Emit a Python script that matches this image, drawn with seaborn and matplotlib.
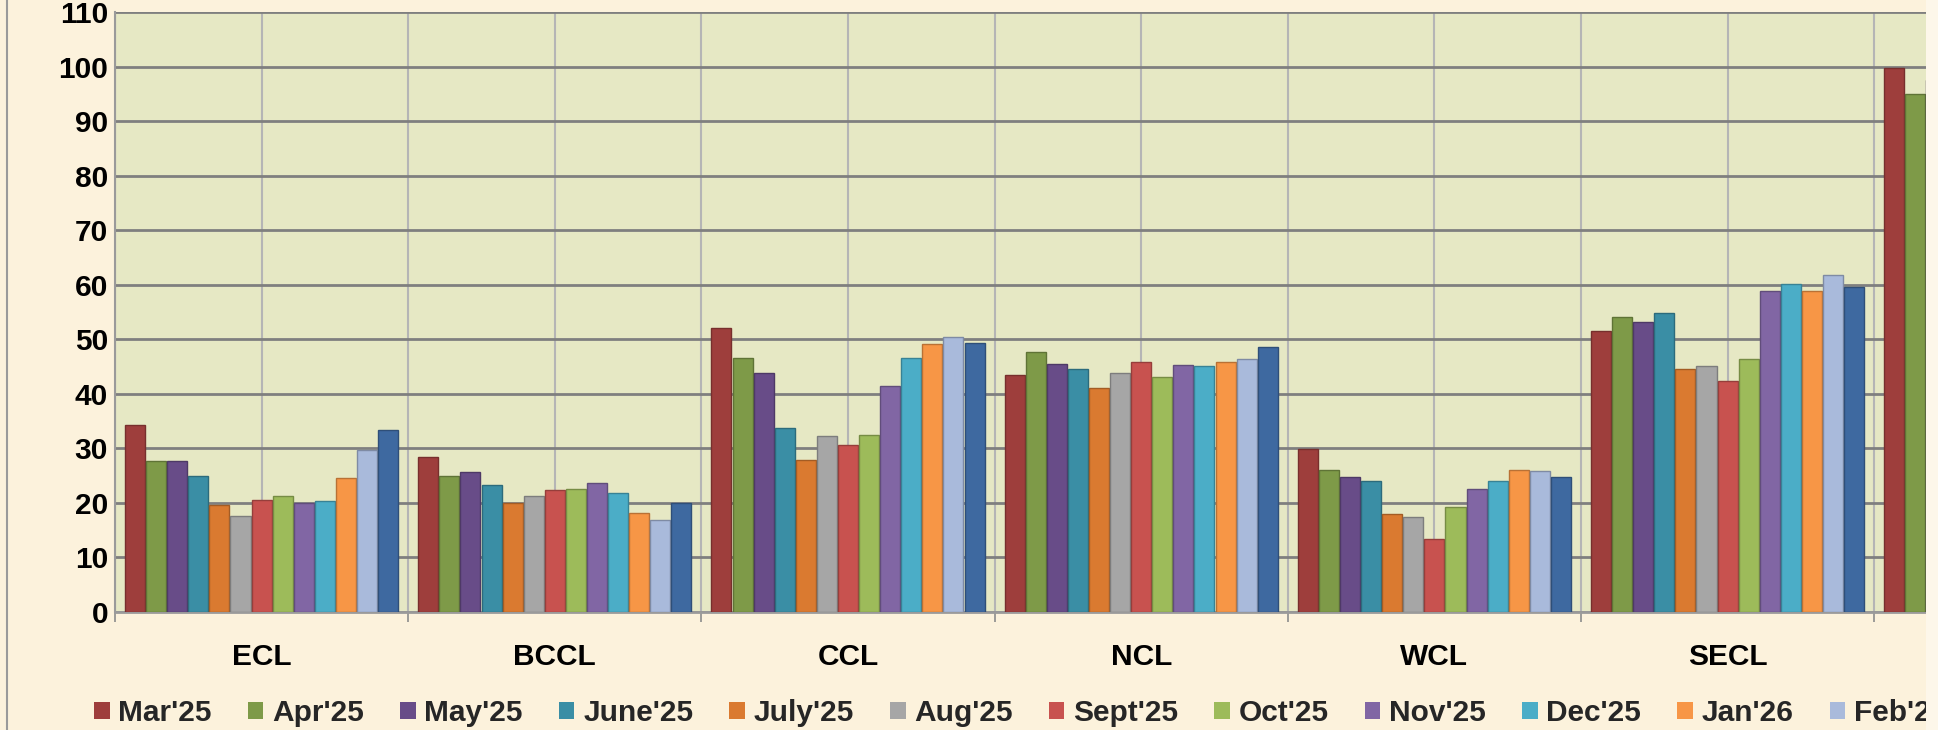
import numpy as np
import pandas as pd
import matplotlib
matplotlib.use("Agg")
import matplotlib.pyplot as plt
from matplotlib.patches import Patch, Rectangle
from matplotlib.lines import Line2D
import seaborn as sns

# ── data (values per month, per company) ──
months = ["Mar'25", "Apr'25", "May'25", "June'25", "July'25", "Aug'25", "Sept'25",
          "Oct'25", "Nov'25", "Dec'25", "Jan'26", "Feb'26", "Mar'26"]
companies = ["ECL", "BCCL", "CCL", "NCL", "WCL", "SECL", "MCL"]

ecl = [34.2, 27.6, 27.6, 25.0, 19.7, 17.6, 20.5, 21.3, 20.0, 20.4, 24.6, 29.7, 33.4]
bccl = [28.5, 25.0, 25.6, 23.3, 19.9, 21.3, 22.4, 22.5, 23.6, 21.9, 18.2, 16.8, 19.9]
ccl = [52.0, 46.6, 43.9, 33.8, 27.9, 32.2, 30.6, 32.5, 41.4, 46.6, 49.1, 50.5, 49.3]
ncl = [43.4, 47.7, 45.4, 44.6, 41.0, 43.9, 45.8, 43.1, 45.3, 45.1, 45.8, 46.4, 48.5]
wcl = [29.9, 26.0, 24.7, 24.0, 17.9, 17.4, 13.3, 19.3, 22.5, 24.0, 26.0, 25.8, 24.7]
secl = [51.6, 54.0, 53.2, 54.9, 44.5, 45.1, 42.4, 46.3, 58.9, 60.1, 58.8, 61.8, 59.5]
# only the first bars of this group are visible in the (cropped) reference
mcl = [99.7, 95.0, 97.6] + [np.nan] * 10

colors = ["#9E3E3C", "#7E9A48", "#684C88", "#3A8EA5", "#DA7A30", "#A6A6A6", "#C8524F",
          "#9DBB5A", "#8166A4", "#4BADC7", "#F79646", "#A9BADB", "#3E69A0"]

series = [ecl, bccl, ccl, ncl, wcl, secl, mcl]
rows = []
for comp, vals in zip(companies, series):
    for m, v in zip(months, vals):
        rows.append({"company": comp, "month": m, "value": v})
df = pd.DataFrame(rows)

# ── style ──
sns.set_theme(style="white")
plt.rcParams["font.family"] = ["Liberation Sans", "DejaVu Sans"]
plt.rcParams["font.weight"] = "bold"
FS = 21.5

W, H = 1938, 730
fig = plt.figure(figsize=(W / 100, H / 100), dpi=100)
fig.patch.set_facecolor("#FCF2DC")

left_px, right_px, top_px, bottom_px = 115, 1926, 12, 612
ax = fig.add_axes([left_px / W, 1 - bottom_px / H,
                   (right_px - left_px) / W, (bottom_px - top_px) / H])
ax.set_facecolor("#E6E8C4")

sns.barplot(data=df, x="company", y="value", hue="month", hue_order=months,
            order=companies, palette=colors, width=0.935, gap=0.05,
            saturation=1, legend=False, errorbar=None, ax=ax, zorder=3)

# darker rim on each bar, a hint of the cylinder look
for p in ax.patches:
    r, g, b, _ = p.get_facecolor()
    p.set_edgecolor((r * 0.75, g * 0.75, b * 0.75))
    p.set_linewidth(1.0)

ax.set_yticks(np.arange(0, 111, 10))
ax.set_xticks(np.arange(-0.5, len(companies), 1), minor=True)

# visible part of the category axis (reference is cropped on the right)
group_px = 293.2
ax.set_xlim(-0.5, -0.5 + (right_px - left_px) / group_px)
ax.set_ylim(0, 110)

ax.grid(axis="y", color="#7F7F7F", linewidth=2.0, zorder=1)
ax.grid(axis="x", which="both", color="#B5B5B5", linewidth=1.5, zorder=1)
ax.set_axisbelow(True)

ax.tick_params(axis="x", which="major", length=0, pad=22, labelsize=FS)
ax.tick_params(axis="x", which="minor", length=7, width=1.2, color="#8C8C8C",
               direction="out", bottom=True)
ax.tick_params(axis="y", length=0, pad=5, labelsize=FS)
for lab in ax.get_xticklabels() + ax.get_yticklabels():
    lab.set_fontweight("bold")
    lab.set_color("black")

ax.set_xlabel("")
ax.set_ylabel("")
for side in ["top", "right"]:
    ax.spines[side].set_visible(False)
ax.spines["left"].set_color("#9A9A9A")
ax.spines["left"].set_linewidth(1.5)
ax.spines["bottom"].set_color("#9A9A9A")
ax.spines["bottom"].set_linewidth(2.0)

# legend along the bottom, single row
handles = [Patch(facecolor=c, edgecolor="none", label=m) for m, c in zip(months, colors)]
fig.legend(handles=handles, loc="center left", bbox_to_anchor=(94 / W, 1 - 713 / H),
           ncol=len(months), frameon=False, borderpad=0, borderaxespad=0,
           handlelength=0.52, handleheight=0.52, handletextpad=0.3,
           columnspacing=1.2, prop={"size": FS, "weight": "bold"})

# chart border on the left edge, pale strip where the screenshot was cropped
fig.add_artist(Line2D([7 / W, 7 / W], [0, 1], color="#9A9A9A", linewidth=1.5))
fig.add_artist(Rectangle((right_px / W, 0), 1 - right_px / W, 1,
                         transform=fig.transFigure, facecolor="#FDF7EA",
                         edgecolor="none", zorder=10))

plt.savefig("out.png", dpi=100, facecolor=fig.get_facecolor())
plt.close()
